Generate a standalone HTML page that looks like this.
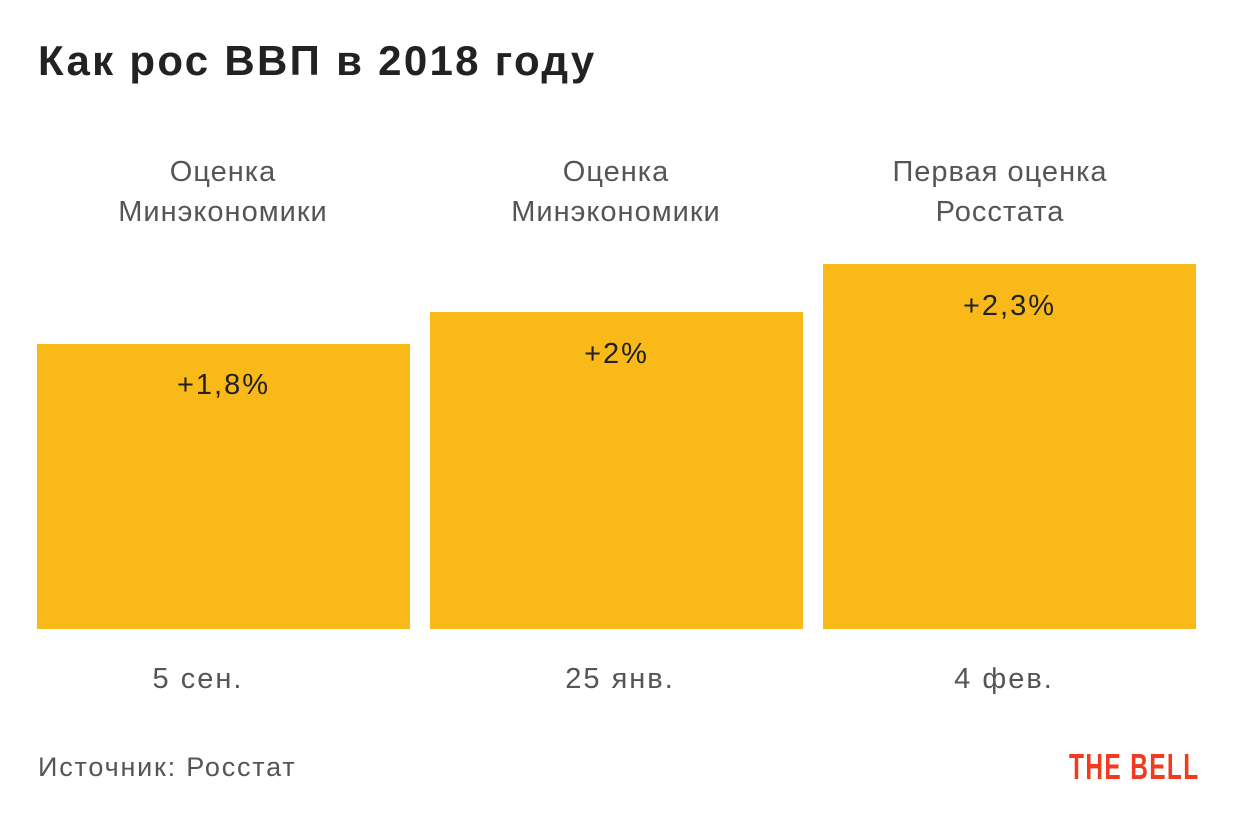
<!DOCTYPE html>
<html><head><meta charset="utf-8"><style>
body{margin:0;width:1240px;height:820px;background:#fff;position:relative;font-family:"Liberation Sans",sans-serif;overflow:hidden}
.a{position:absolute;white-space:nowrap}
.t{left:38px;top:37px;font-size:42px;font-weight:bold;color:#222;letter-spacing:2.3px}
.lab{font-size:29px;color:#555;text-align:center;line-height:40px;width:400px;letter-spacing:1px}
.bar{position:absolute;background:#F9B918;width:373px;bottom:191px}
.v{font-size:29px;color:#222;text-align:center;width:373px;letter-spacing:2px}
.d{font-size:29px;color:#555;text-align:center;width:300px;letter-spacing:2px;top:663px}
</style></head><body>
<div class="a t">Как рос ВВП в 2018 году</div>
<div class="a lab" style="left:23px;top:152px">Оценка<br>Минэкономики</div>
<div class="a lab" style="left:416px;top:152px">Оценка<br>Минэкономики</div>
<div class="a lab" style="left:800px;top:152px">Первая оценка<br>Росстата</div>
<div class="bar" style="left:37px;top:344px"></div>
<div class="bar" style="left:430px;top:312px"></div>
<div class="bar" style="left:823px;top:264px"></div>
<div class="a v" style="left:37px;top:369px">+1,8%</div>
<div class="a v" style="left:430px;top:338px">+2%</div>
<div class="a v" style="left:823px;top:290px">+2,3%</div>
<div class="a d" style="left:48px">5 сен.</div>
<div class="a d" style="left:470px">25 янв.</div>
<div class="a d" style="left:854px">4 фев.</div>
<div class="a" style="left:38px;top:752px;font-size:27px;color:#555;letter-spacing:1.8px">Источник: Росстат</div>
<div class="a" style="left:1069px;top:746px;font-size:36px;font-weight:bold;color:#F23A1E;transform:scaleX(0.68);transform-origin:left top;letter-spacing:2px">THE BELL</div>
</body></html>
